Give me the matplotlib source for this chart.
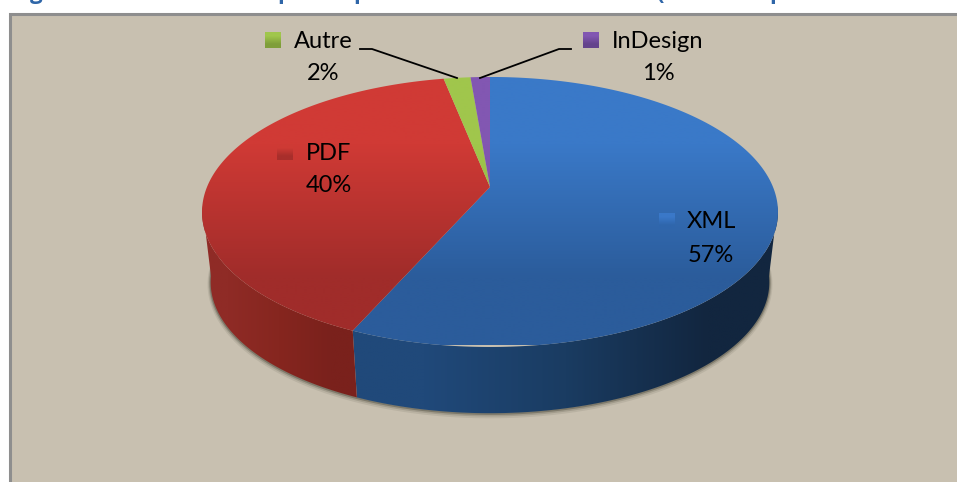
import numpy as np
import matplotlib
matplotlib.use("Agg")
import matplotlib.pyplot as plt
from matplotlib.patches import Polygon, Rectangle

categories = ["XML", "PDF", "Autre", "InDesign"]
values = [56.6, 40.3, 1.8, 1.3]
percent_labels = ["57%", "40%", "2%", "1%"]
top_colors = [("#3A79C8", "#2B5C9B"), ("#D03A35", "#A02C2A"),
              ("#A0C64C", "#8DB03F"), ("#8257B2", "#754CA0")]
wall_colors = [("#20497A", "#1A3C62", "#12263F"), ("#8F2B26", "#86261F", "#7A211C")]
title_fragments = ["g", "p", "p", "(", "p"]
title_x = [36, 284, 360, 660, 776]

W, H = 957, 482
BG = "#C8C0B0"
fig = plt.figure(figsize=(W / 100, H / 100), dpi=100, facecolor="white")
ax = fig.add_axes([0, 0, 1, 1])
ax.set_xlim(0, W)
ax.set_ylim(H, 0)
ax.axis("off")
FONT = "Lato"

# Frame
ax.add_patch(Rectangle((10, 14), W, H, fc=BG, ec="#8E8E8E", lw=2.2, zorder=1))

# Pie projection
CX, CY, RX, RY, K = 490.0, 187.0, 283.0, 130.4, 0.185


def rim(theta_deg, scale=1.0, dy=0.0):
    t = np.radians(theta_deg)
    u, v = np.sin(t), np.cos(t)
    w = 1 + K * v
    return CX + scale * RX * u / w, CY + dy - scale * RY * v / w


def grad(colors, bbox, clip, horizontal=False, z=3):
    rgb = np.array([matplotlib.colors.to_rgb(c) for c in colors])
    arr = rgb[None, :, :] if horizontal else rgb[:, None, :]
    im = ax.imshow(arr, extent=bbox, origin="upper", aspect="auto",
                   interpolation="bilinear", zorder=z)
    p = Polygon(clip, closed=True, transform=ax.transData, fc="none", ec="none")
    ax.add_patch(p)
    im.set_clip_path(p)
    return im


edges = np.concatenate([[0], np.cumsum(values)]) / np.sum(values) * 360

S_B, DY = 0.97, 71.0
sil_r, sil_l = 98.0, 262.0

# Soft shadow below the wall
th = np.linspace(sil_r - 10, sil_l + 10, 300)
bx, by = rim(th, S_B, DY)
for off, lw, a in [(2.0, 4.5, 0.10), (1.2, 3.0, 0.18), (0.6, 1.6, 0.35)]:
    ax.plot(bx, by + off, color="#3A382C", lw=lw, alpha=a, zorder=2,
            solid_capstyle="round")

# Walls
for i, (a0, a1) in enumerate([(sil_r, edges[1]), (edges[1], sil_l)]):
    th = np.linspace(a0, a1, 200)
    tx, ty = rim(th)
    bx, by = rim(th, S_B, DY)
    pts = np.column_stack([np.r_[tx, bx[::-1]], np.r_[ty, by[::-1]]])
    l, r = pts[:, 0].min(), pts[:, 0].max()
    grad(wall_colors[i], (l, r, 420, 200), pts, horizontal=True, z=3)

# Top faces
for i in range(len(values)):
    th = np.linspace(edges[i], edges[i + 1], 300)
    x, y = rim(th)
    pts = np.column_stack([np.r_[CX, x], np.r_[CY, y]])
    grad(top_colors[i], (190, 790, 345, 77), pts, z=4)

ax.set_xlim(0, W)
ax.set_ylim(H, 0)

# Leader lines
ax.plot([360, 372, 457], [49, 49, 78], color="black", lw=1.3, zorder=6)
ax.plot([480, 559, 571], [78, 49, 49], color="black", lw=1.3, zorder=6)

# Labels: key box left edge, top edge, text centre, name y, percent y
label_pos = [(659, 213, 711, 222, 255), (277, 144, 329, 153, 186),
             (265, 32, 323, 41, 74), (583, 32, 658, 41, 74)]
key_colors = [("#3A78C8", "#2F66AC"), ("#CE3A34", "#A82E2B"),
              ("#A0C64C", "#7F9E3A"), ("#8257B2", "#64438C")]
for i, (kx, ky, tx, ny, py) in enumerate(label_pos):
    grad(key_colors[i], (kx, kx + 16, ky + 16, ky),
         [(kx, ky), (kx + 16, ky), (kx + 16, ky + 16), (kx, ky + 16)], z=7)
    ax.text(tx, ny, categories[i], ha="center", va="center", family=FONT,
            fontsize=17, color="black", zorder=8)
    ax.text(tx, py, percent_labels[i], ha="center", va="center", family=FONT,
            fontsize=17, color="black", zorder=8)

ax.set_xlim(0, W)
ax.set_ylim(H, 0)

# Title is cut off by the top edge; only descenders remain visible
for g, x in zip(title_fragments, title_x):
    ax.text(x, -1, g, ha="center", va="baseline", family="Open Sans",
            fontweight="bold", fontsize=16, color="#2F66A8", clip_on=False, zorder=9)

fig.savefig("out.png", dpi=100, facecolor="white")
